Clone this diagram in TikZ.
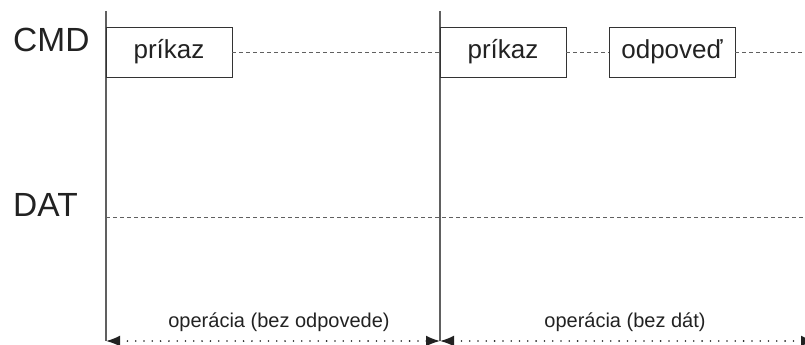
\documentclass[tikz,border=0pt]{standalone}
\usepackage{fontspec}
\setmainfont{Liberation Sans}
\usetikzlibrary{arrows.meta}
\definecolor{txt}{HTML}{222222}
\definecolor{vline}{HTML}{606060}
\definecolor{boxc}{HTML}{333333}
\tikzset{
  msgbox/.style={draw=boxc, line width=0.9pt, minimum width=126pt, minimum height=50pt, inner sep=0pt, text=txt, font=\fontsize{26}{30}\selectfont},
  lane/.style={anchor=base west, inner sep=0pt, text=txt, font=\fontsize{33.5}{38}\selectfont},
  opl/.style={anchor=base, inner sep=0pt, text=txt, font=\fontsize{20}{24}\selectfont},
  sig/.style={draw=vline, line width=0.8pt, dash pattern=on 4pt off 3pt},
  tline/.style={draw=vline, line width=1.2pt},
  span/.style={draw=txt, line width=1.8pt, line cap=round, dash pattern=on 0pt off 8.3pt, {Latex[length=14pt,width=11pt]}-{Latex[length=14pt,width=11pt]}}
}
\begin{document}
\begin{tikzpicture}[x=1pt,y=-1pt]
\useasboundingbox (0,0) rectangle (805,345);
\clip (0,0) rectangle (805,345);
% time lines
\coordinate (t1top) at (106,11);
\coordinate (t1bot) at (106,341);
\coordinate (t2top) at (440,11);
\coordinate (t2bot) at (440,341);
\coordinate (cmdend) at (805,52);
\coordinate (datstart) at (106,217);
\coordinate (datend) at (805,217);
\coordinate (spanend) at (815,341);
\draw[tline] (t1top) -- (t1bot);
\draw[tline] (t2top) -- (t2bot);
% lane labels
\node[lane] (cmd) at (13,52) {CMD};
\node[lane] (dat) at (13,216) {DAT};
% boxes
\node[msgbox] (b1) at (169,52) {príkaz};
\node[msgbox] (b2) at (503,52) {príkaz};
\node[msgbox] (b3) at (672,52) {odpoveď};
% dashed signal lines
\draw[sig] (b1.east) -- (b2.west);
\draw[sig] (b2.east) -- (b3.west);
\draw[sig] (b3.east) -- (cmdend);
\draw[sig] (datstart) -- (datend);
% operation spans
\draw[span] (t1bot) -- (t2bot);
\draw[span] (t2bot) -- (spanend);
\node[opl] (op1) at (279,327) {operácia (bez odpovede)};
\node[opl] (op2) at (625,327) {operácia (bez dát)};
\end{tikzpicture}
\end{document}
